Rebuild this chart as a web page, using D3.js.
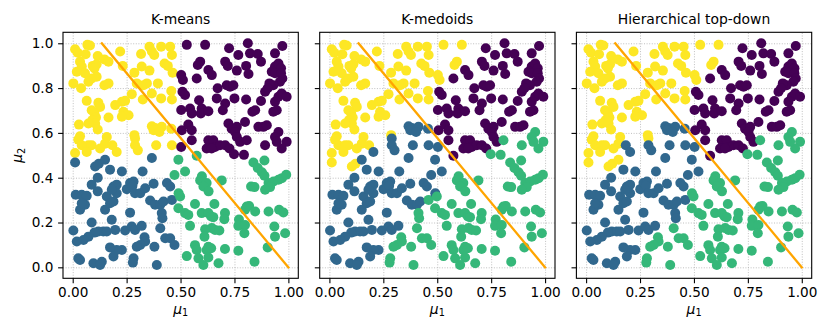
<!DOCTYPE html>
<html>
<head>
<meta charset="utf-8">
<script src="https://cdn.jsdelivr.net/npm/d3@7"></script>
<style>
  body { margin: 0; background: #ffffff; }
  svg { display: block; font-family: "DejaVu Sans", sans-serif; }
</style>
</head>
<body>
<div class="svg-container"></div>
<script>
// panel titles and axis ticks
var panelTitles = ["K-means", "K-medoids", "Hierarchical top-down"];
var xTickValues = [0, 0.25, 0.5, 0.75, 1.0];
var yTickValues = [0, 0.2, 0.4, 0.6, 0.8, 1.0];

// the orange reference line (mu1, mu2)
var lineMu1 = [0.135, 1.0];
var lineMu2 = [1.0, 0.0];

// points: [mu1, mu2, k-means, k-medoids, hierarchical]
// cluster ids: 0 purple, 1 blue, 2 green, 3 yellow
var topLeftPoints = [
  [0.011,0.973,3,3,3],[0.023,0.958,3,3,3],[0.068,0.993,3,3,3],[0.080,0.990,3,3,3],[0.060,0.951,3,3,3],
  [0.116,0.943,3,3,3],[0.147,0.928,3,3,3],[0.166,0.918,3,3,3],[0.220,0.963,3,3,3],[0.317,0.952,3,3,3],
  [0.356,0.985,3,3,3],[0.367,0.963,3,3,3],[0.378,0.948,3,3,3],[0.410,0.985,3,3,3],[0.452,0.985,3,3,3],
  [0.460,0.948,3,3,3],[0.034,0.918,3,3,3],[0.042,0.896,3,3,3],[0.093,0.899,3,3,3],[0.111,0.906,3,3,3],
  [0.101,0.888,3,3,3],[0.232,0.899,3,3,3],[0.286,0.869,3,3,3],[0.320,0.896,3,3,3],[0.356,0.878,3,3,3],
  [0.426,0.910,3,3,3],[0.441,0.899,3,3,3],[0.463,0.869,3,3,3],[0.019,0.873,3,3,3],[0.057,0.866,3,3,3],
  [0.111,0.851,3,3,3],[0.088,0.843,3,3,3],[0.073,0.828,3,3,3],[0.003,0.821,3,3,3],[0.039,0.799,3,3,3],
  [0.147,0.813,3,3,3],[0.166,0.821,3,3,3],[0.297,0.821,3,3,3],[0.328,0.813,3,3,3],[0.344,0.821,3,3,3],
  [0.367,0.776,3,3,3],[0.395,0.821,3,3,3],[0.457,0.787,3,3,3],[0.410,0.754,3,3,3],[0.460,0.749,3,3,3],
  [0.325,0.749,3,3,3],[0.274,0.773,3,3,3],[0.228,0.739,3,3,3],[0.243,0.743,3,3,3],[0.065,0.743,3,3,3],
  [0.119,0.734,3,3,3],[0.127,0.716,3,3,3],[0.088,0.701,3,3,3],[0.101,0.687,3,3,3],[0.108,0.669,3,3,3],
  [0.091,0.657,3,3,3],[0.104,0.642,3,3,3],[0.197,0.724,3,3,3],[0.235,0.694,3,3,3],[0.259,0.679,3,3,3],
  [0.228,0.672,3,3,3],[0.166,0.669,3,3,3],[0.029,0.637,3,3,3],[0.073,0.642,3,3,3],[0.116,0.615,3,3,3],
  [0.158,0.582,3,3,3],[0.150,0.552,3,3,3],[0.184,0.545,3,3,1],[0.286,0.590,3,3,3],[0.289,0.575,3,1,3],
  [0.367,0.630,3,1,1],[0.382,0.622,3,1,1],[0.413,0.627,3,1,1],[0.375,0.612,3,1,1],[0.402,0.604,3,1,1],
  [0.457,0.619,3,1,1],[0.460,0.545,3,1,1],[0.387,0.545,3,1,1],[0.289,0.545,3,1,1],[0.302,0.522,3,1,1],
  [0.034,0.585,3,3,3],[0.026,0.570,3,3,3],[0.042,0.545,3,3,3],[0.073,0.545,3,3,3],[0.088,0.545,3,3,3],
  [0.127,0.530,3,3,3],[0.204,0.515,3,1,1],[0.011,0.510,3,3,3],[0.065,0.515,3,3,3]
];

var topRightPoints = [
  [0.503,0.858,0,3,3],[0.511,0.836,0,3,3],[0.509,0.784,0,0,0],[0.503,0.702,0,0,0],[0.506,0.612,0,0,0],
  [0.503,0.537,0,1,1],[0.529,0.993,0,3,3],[0.614,0.993,0,3,3],[0.725,0.978,0,0,0],[0.812,1.000,0,0,0],
  [0.972,0.988,0,0,0],[0.822,0.955,0,0,0],[0.858,0.952,0,0,0],[0.873,0.918,0,0,0],[0.938,0.955,0,0,0],
  [0.768,0.948,0,0,0],[0.591,0.918,0,3,3],[0.580,0.903,0,3,3],[0.629,0.881,0,0,0],[0.645,0.858,0,0,0],
  [0.707,0.918,0,0,0],[0.719,0.899,0,0,0],[0.761,0.878,0,0,0],[0.804,0.899,0,0,0],[0.815,0.863,0,0,0],
  [0.575,0.843,0,0,0],[0.938,0.896,0,0,0],[0.954,0.910,0,0,0],[0.966,0.888,0,0,0],[0.923,0.873,0,0,0],
  [0.938,0.866,0,0,0],[0.966,0.866,0,0,0],[0.972,0.843,0,0,0],[0.961,0.828,0,0,0],[0.930,0.813,0,0,0],
  [0.912,0.821,0,0,0],[0.892,0.784,0,0,0],[0.904,0.799,0,0,0],[0.714,0.813,0,0,0],[0.730,0.806,0,0,0],
  [0.745,0.813,0,0,0],[0.672,0.799,0,0,0],[0.668,0.754,0,0,0],[0.707,0.731,0,0,0],[0.750,0.754,0,0,0],
  [0.804,0.749,0,0,0],[0.873,0.742,0,0,0],[0.938,0.739,0,0,0],[0.954,0.761,0,0,0],[0.969,0.776,0,0,0],
  [0.992,0.761,0,0,0],[0.946,0.701,0,0,0],[0.930,0.694,0,0,0],[0.846,0.701,0,0,0],[0.833,0.694,0,0,0],
  [0.521,0.769,0,0,0],[0.586,0.746,0,0,0],[0.544,0.709,0,0,0],[0.552,0.687,0,0,0],[0.598,0.709,0,0,0],
  [0.594,0.687,0,0,0],[0.629,0.697,0,0,0],[0.696,0.701,0,0,0],[0.799,0.649,0,0,0],[0.722,0.642,0,0,0],
  [0.737,0.619,0,0,0],[0.761,0.627,0,0,0],[0.753,0.604,0,0,0],[0.761,0.582,0,0,0],[0.776,0.560,0,0,0],
  [0.807,0.567,0,2,2],[0.861,0.627,0,0,0],[0.884,0.627,0,0,0],[0.900,0.634,0,0,0],[0.954,0.604,0,2,2],
  [0.938,0.582,0,2,2],[0.992,0.560,0,2,2],[0.969,0.530,0,2,2],[0.892,0.545,0,2,2],[0.946,0.560,0,2,2],
  [0.536,0.637,0,0,0],[0.552,0.612,0,0,0],[0.552,0.567,0,0,0],[0.629,0.567,0,0,0],[0.652,0.567,0,0,0],
  [0.660,0.537,0,0,0],[0.683,0.545,0,0,0],[0.621,0.530,0,0,0],[0.644,0.530,0,0,0],[0.707,0.545,0,0,0],
  [0.727,0.530,0,0,0],[0.748,0.505,0,2,2],[0.794,0.502,0,2,2]
];

var bottomLeftPoints = [
  [0.011,0.468,1,3,3],[0.104,0.450,1,3,3],[0.121,0.462,1,3,3],[0.150,0.480,1,1,3],[0.173,0.436,1,1,1],
  [0.228,0.428,1,1,1],[0.324,0.428,1,1,1],[0.367,0.488,1,1,1],[0.116,0.400,1,1,1],[0.088,0.369,1,1,1],
  [0.116,0.339,1,1,1],[0.158,0.316,1,1,1],[0.189,0.361,1,1,1],[0.204,0.369,1,1,1],[0.204,0.331,1,1,1],
  [0.181,0.346,1,1,1],[0.251,0.349,1,1,1],[0.266,0.376,1,1,1],[0.282,0.383,1,1,1],[0.277,0.364,1,1,1],
  [0.289,0.331,1,1,1],[0.313,0.331,1,1,1],[0.336,0.353,1,1,1],[0.375,0.373,1,1,1],[0.437,0.376,1,1,1],
  [0.452,0.361,1,1,1],[0.014,0.324,1,1,1],[0.042,0.324,1,1,1],[0.065,0.319,1,1,1],[0.057,0.279,1,1,1],
  [0.034,0.257,1,1,1],[0.042,0.286,1,1,1],[0.150,0.257,1,1,1],[0.173,0.286,1,1,1],[0.189,0.294,1,1,1],
  [0.266,0.244,1,1,1],[0.359,0.298,1,1,1],[0.382,0.279,1,1,1],[0.406,0.279,1,1,1],[0.421,0.294,1,1,1],
  [0.460,0.301,1,2,1],[0.413,0.242,1,2,1],[0.416,0.219,1,2,1],[0.003,0.164,1,1,1],[0.088,0.200,1,1,1],
  [0.181,0.212,1,1,1],[0.197,0.167,1,1,1],[0.119,0.160,1,1,1],[0.142,0.160,1,1,1],[0.158,0.160,1,1,1],
  [0.101,0.155,1,1,1],[0.073,0.137,1,1,1],[0.050,0.122,1,1,1],[0.019,0.115,1,1,1],[0.243,0.164,1,1,1],
  [0.274,0.182,1,1,1],[0.289,0.167,1,1,1],[0.320,0.185,1,1,1],[0.406,0.174,1,2,2],[0.429,0.130,1,2,2],
  [0.452,0.130,1,2,2],[0.472,0.100,1,2,2],[0.333,0.134,1,2,2],[0.336,0.115,1,2,2],[0.313,0.100,1,2,2],
  [0.297,0.092,1,2,2],[0.379,0.092,1,2,2],[0.228,0.077,1,1,1],[0.204,0.077,1,1,1],[0.173,0.089,1,1,1],
  [0.189,0.048,1,1,1],[0.026,0.040,1,1,1],[0.034,0.033,1,1,1],[0.096,0.018,1,1,1],[0.135,0.025,1,1,1],
  [0.127,0.010,1,1,1],[0.282,0.040,1,2,2],[0.279,0.021,1,2,2],[0.390,0.010,1,2,2]
];

var bottomRightPoints = [
  [0.490,0.480,2,1,1],[0.575,0.498,2,0,0],[0.838,0.468,2,2,2],[0.889,0.477,2,2,2],[0.521,0.428,2,1,1],
  [0.599,0.406,2,2,2],[0.591,0.388,2,2,2],[0.621,0.376,2,2,2],[0.606,0.361,2,2,2],[0.630,0.339,2,2,2],
  [0.691,0.388,2,2,2],[0.858,0.443,2,2,2],[0.877,0.424,2,2,2],[0.889,0.409,2,2,2],[0.908,0.376,2,2,2],
  [0.931,0.383,2,2,2],[0.954,0.391,2,2,2],[0.970,0.398,2,2,2],[0.990,0.413,2,2,2],[0.915,0.358,2,2,2],
  [0.892,0.346,2,2,2],[0.827,0.361,2,2,2],[0.843,0.358,2,2,2],[0.807,0.271,2,2,2],[0.799,0.257,2,2,2],
  [0.818,0.274,2,2,2],[0.846,0.249,2,2,2],[0.908,0.249,2,2,2],[0.957,0.257,2,2,2],[0.977,0.245,2,2,2],
  [0.567,0.283,2,2,2],[0.657,0.283,2,2,2],[0.490,0.264,2,2,2],[0.521,0.242,2,2,2],[0.536,0.234,2,2,2],
  [0.598,0.242,2,2,2],[0.629,0.242,2,2,2],[0.642,0.227,2,2,2],[0.652,0.224,2,2,2],[0.706,0.242,2,2,2],
  [0.703,0.215,2,2,2],[0.544,0.185,2,2,2],[0.645,0.175,2,2,2],[0.660,0.167,2,2,2],[0.680,0.164,2,2,2],
  [0.614,0.170,2,2,2],[0.611,0.137,2,2,2],[0.771,0.213,2,2,2],[0.768,0.185,2,2,2],[0.799,0.189,2,2,2],
  [0.796,0.152,2,2,2],[0.935,0.182,2,2,2],[0.985,0.152,2,2,2],[0.938,0.137,2,2,2],[0.904,0.089,2,2,2],
  [0.567,0.099,2,2,2],[0.575,0.077,2,2,2],[0.629,0.092,2,2,2],[0.621,0.077,2,2,2],[0.642,0.085,2,2,2],
  [0.706,0.082,2,2,2],[0.768,0.074,2,2,2],[0.529,0.050,2,2,2],[0.583,0.040,2,2,2],[0.629,0.044,2,2,2],
  [0.606,0.010,2,2,2],[0.676,0.018,2,2,2],[0.843,0.025,2,2,2],[0.472,0.412,2,1,1],[0.491,0.331,2,1,2],
  [0.498,0.316,2,2,2]
];

//module that builds the three scatter panels
var ClusterFigure = (function() {
    var _colors = ["#440154", "#31688e", "#35b779", "#fde725"];
    var _size = { width: 830, height: 332 };
    var _panel = { left: 63, top: 32.3, width: 235.3, height: 246, step: 256.7 };
    var _points = topLeftPoints.concat(topRightPoints, bottomLeftPoints, bottomRightPoints);

    var _xScale = d3.scaleLinear().domain([-0.045, 1.046]).range([0, _panel.width]);
    var _yScale = d3.scaleLinear().domain([-0.049, 1.049]).range([_panel.height, 0]);

    var _drawPanel = function(svg, index) {
        var g = svg.append("g")
                    .attr("transform", "translate(" + (_panel.left + index * _panel.step) + "," + _panel.top + ")");

        //dotted grid first so everything sits on top of it
        g.append("g")
          .attr("class", "grid-x")
          .attr("transform", "translate(0," + _panel.height + ")")
          .call(d3.axisBottom(_xScale).tickValues(xTickValues).tickSize(-_panel.height).tickFormat(""))
          .call(function(sel) { sel.select(".domain").remove(); })
          .selectAll("line")
            .attr("stroke", "#b0b0b0")
            .attr("stroke-width", 0.8)
            .attr("stroke-dasharray", "1,1.6");

        g.append("g")
          .attr("class", "grid-y")
          .call(d3.axisLeft(_yScale).tickValues(yTickValues).tickSize(-_panel.width).tickFormat(""))
          .call(function(sel) { sel.select(".domain").remove(); })
          .selectAll("line")
            .attr("stroke", "#b0b0b0")
            .attr("stroke-width", 0.8)
            .attr("stroke-dasharray", "1,1.6");

        //the scatter itself, coloured by this panel's cluster labels
        g.append("g")
          .selectAll("circle")
          .data(_points)
          .enter()
          .append("circle")
            .attr("cx", function(d) { return _xScale(d[0]); })
            .attr("cy", function(d) { return _yScale(d[1]); })
            .attr("r", 5)
            .attr("fill", function(d) { return _colors[d[2 + index]]; });

        g.append("line")
          .attr("x1", _xScale(lineMu1[0]))
          .attr("y1", _yScale(lineMu2[0]))
          .attr("x2", _xScale(lineMu1[1]))
          .attr("y2", _yScale(lineMu2[1]))
          .attr("stroke", "#ffa500")
          .attr("stroke-width", 2.3)
          .attr("stroke-linecap", "square");

        //axes with ticks, y labels only on the first panel
        var xAxis = g.append("g")
                      .attr("transform", "translate(0," + _panel.height + ")")
                      .call(d3.axisBottom(_xScale)
                                .tickValues(xTickValues)
                                .tickSize(4.9)
                                .tickPadding(4.4)
                                .tickFormat(d3.format(".2f")));
        xAxis.select(".domain").remove();
        xAxis.selectAll("text")
             .attr("font-size", "13.6px")
             .attr("font-family", "DejaVu Sans")
             .attr("fill", "#000");

        var yAxis = g.append("g")
                      .call(d3.axisLeft(_yScale)
                                .tickValues(yTickValues)
                                .tickSize(4.9)
                                .tickPadding(4.8)
                                .tickFormat(index === 0 ? d3.format(".1f") : ""));
        yAxis.select(".domain").remove();
        yAxis.selectAll("text")
             .attr("font-size", "13.6px")
             .attr("font-family", "DejaVu Sans")
             .attr("fill", "#000");

        g.selectAll(".tick line")
          .filter(function() { return !this.hasAttribute("stroke-dasharray"); })
          .attr("stroke", "#000")
          .attr("stroke-width", 1.1);

        g.append("rect")
          .attr("width", _panel.width)
          .attr("height", _panel.height)
          .attr("fill", "none")
          .attr("stroke", "#000")
          .attr("stroke-width", 1.1);

        g.append("text")
          .attr("x", _panel.width / 2)
          .attr("y", -8)
          .attr("text-anchor", "middle")
          .attr("font-size", "13.9px")
          .text(panelTitles[index]);

        //x label: italic mu with subscript 1
        var xLabel = g.append("text")
                       .attr("x", _panel.width / 2)
                       .attr("y", _panel.height + 35.3)
                       .attr("text-anchor", "middle")
                       .attr("font-size", "13.9px");
        xLabel.append("tspan").attr("font-style", "italic").text("\u03bc");
        xLabel.append("tspan").attr("font-size", "9.7px").attr("dy", 2.9).text("1");

        if (index === 0) {
            var yLabel = g.append("text")
                           .attr("transform", "translate(-41," + (_panel.height / 2) + ") rotate(-90)")
                           .attr("text-anchor", "middle")
                           .attr("font-size", "13.9px");
            yLabel.append("tspan").attr("font-style", "italic").text("\u03bc");
            yLabel.append("tspan").attr("font-size", "9.7px").attr("dy", 2.9).text("2");
        }
    };

    var init = function() {
        var svg = d3.select(".svg-container")
                    .append("svg")
                      .attr("width", _size.width)
                      .attr("height", _size.height)
                      .attr("viewBox", "0 0 " + _size.width + " " + _size.height);

        for (var i = 0; i < panelTitles.length; i++) {
            _drawPanel(svg, i);
        }
    };

    return { init: init };
})();

ClusterFigure.init();
</script>
</body>
</html>
